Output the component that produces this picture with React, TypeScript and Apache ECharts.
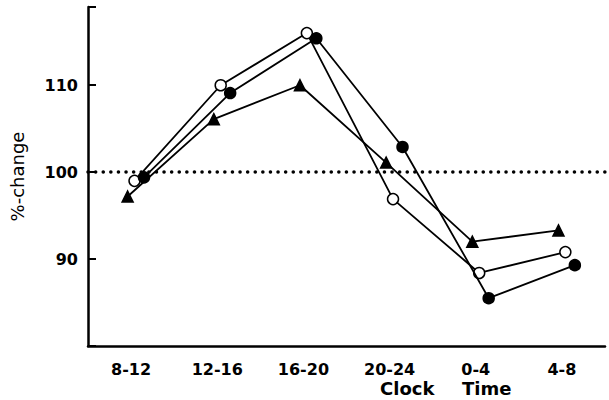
import React, { useEffect, useRef } from 'react';
import * as echarts from 'echarts';

const categories = ['8-12', '12-16', '16-20', '20-24', '0-4', '4-8'];
const filledValues = [99.4, 109.1, 115.4, 102.9, 85.5, 89.3];
const openValues = [99.0, 110.0, 116.0, 96.9, 88.4, 90.8];
const triangleValues = [97.2, 106.1, 110.0, 101.1, 92.0, 93.3];
const yTickLabels = [90, 100, 110];
const referenceLevel = 100;
const yAxisTitle = '%-change';
const xTitleWords = ['Clock', 'Time'];

const FONT = 'DejaVu Sans';

const seriesDefs = [
  { name: 'triangle', values: triangleValues, offset: -0.04, symbol: 'triangle', fill: '#000', size: 11 },
  { name: 'open', values: openValues, offset: 0.04, symbol: 'circle', fill: '#fff', size: 11 },
  { name: 'filled', values: filledValues, offset: 0.15, symbol: 'circle', fill: '#000', size: 11 },
];

export default function App() {
  const ref = useRef<HTMLDivElement>(null);
  useEffect(() => {
    if (!ref.current) return;
    const chart = echarts.init(ref.current, null, { renderer: 'svg' });
    const series: any[] = seriesDefs.map((d, si) => ({
      type: 'line',
      name: d.name,
      xAxisIndex: 1,
      data: d.values.map((v, i) => [i + d.offset, v]),
      symbol: d.symbol,
      symbolSize: d.size,
      showAllSymbol: true,
      lineStyle: { color: '#000', width: 1.8 },
      itemStyle: { color: d.fill, borderColor: '#000', borderWidth: 1.5 },
      z: 3 + si,
    }));
    series.push({
      type: 'line',
      xAxisIndex: 1,
      data: [],
      markLine: {
        silent: true,
        symbol: ['none', 'none'],
        label: { show: false },
        lineStyle: { color: '#000', width: 3.5, type: [0.1, 7.5], cap: 'round' },
        data: [{ yAxis: referenceLevel }],
      },
      z: 1,
    });
    chart.setOption({
      animation: false,
      backgroundColor: '#fff',
      grid: { left: 88, right: 4, top: 7, bottom: 54 },
      xAxis: [
        {
          type: 'category',
          data: categories,
          boundaryGap: true,
          axisLine: { onZero: false, lineStyle: { color: '#000', width: 2.5 } },
          axisTick: { alignWithLabel: true, inside: true, length: 7, lineStyle: { color: '#000', width: 2 } },
          axisLabel: { color: '#000', fontFamily: FONT, fontWeight: 'bold', fontSize: 16, margin: 15 },
          splitLine: { show: false },
        },
        { type: 'value', min: -0.5, max: 5.5, show: false },
      ],
      yAxis: {
        type: 'value',
        min: 80,
        max: 119,
        interval: 10,
        name: yAxisTitle,
        nameLocation: 'middle',
        nameRotate: 90,
        nameGap: 62,
        nameTextStyle: { color: '#000', fontFamily: FONT, fontSize: 18 },
        axisLine: { show: true, onZero: false, lineStyle: { color: '#000', width: 2.5 } },
        axisTick: { show: true, inside: true, length: 8, lineStyle: { color: '#000', width: 2 } },
        axisLabel: {
          color: '#000',
          fontFamily: FONT,
          fontWeight: 'bold',
          fontSize: 16,
          margin: 10,
          formatter: (v: number) => (yTickLabels.includes(v) ? String(v) : ''),
        },
        splitLine: { show: false },
      },
      graphic: [
        { type: 'text', left: 380, top: 379, style: { text: xTitleWords[0], fill: '#000', font: `bold 18px "${FONT}"` } },
        { type: 'text', left: 462, top: 379, style: { text: xTitleWords[1], fill: '#000', font: `bold 18px "${FONT}"` } },
      ],
      series,
    });
    return () => chart.dispose();
  }, []);
  return <div ref={ref} style={{ position: 'fixed', left: 0, top: 0, width: 609, height: 400 }} />;
}
